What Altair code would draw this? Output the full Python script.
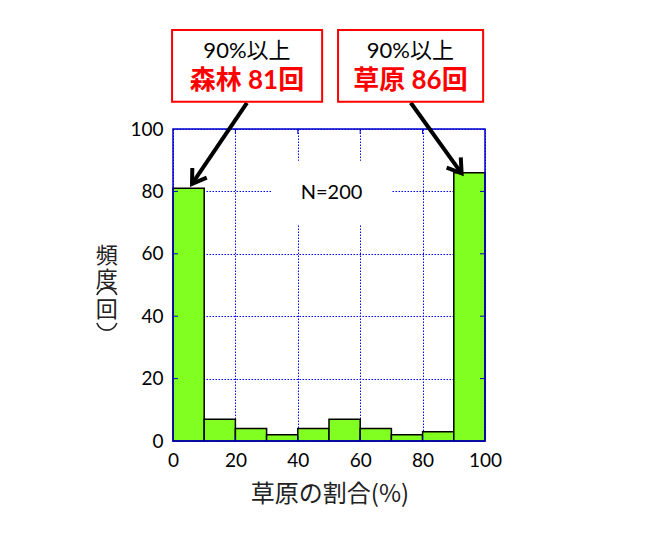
import altair as alt
import pandas as pd

# ---- data ----
bin_start = [0, 10, 20, 30, 40, 50, 60, 70, 80, 90]
counts = [81, 7, 4, 2, 4, 7, 4, 2, 3, 86]
tick_vals = [0, 20, 40, 60, 80, 100]
inner_ticks = [20, 40, 60, 80]

ann_line1 = ["90%以上", "90%以上"]
ann_line2 = ["森林 81回", "草原 86回"]
ann_box_x = [-0.3, 52.9]
ann_box_x2 = [47.8, 99.4]
ann_cx = [23.7, 76.1]
arrow_x = [23.7, 76.2]
arrow_y = [108.4, 108.4]
arrow_tx = [6.1, 92.5]
arrow_ty = [82.4, 85.8]
arrow_ang = [34, 324]

ytitle_chars = ["頻", "度", "回"]
ytitle_y = [59.4, 51.6, 42.0]
yparen_y = [47.9, 36.7]
yparen_ang = [0, 180]

BLUE = "#0000cc"
GREEN = "#80ff20"
NUM_FONT = "Lato, 'Noto Sans CJK JP'"
JP_FONT = "'Noto Sans CJK JP'"

bars = pd.DataFrame({"x": bin_start, "x2": [b + 10 for b in bin_start], "n": counts})
ann = pd.DataFrame({"bx": ann_box_x, "bx2": ann_box_x2, "cx": ann_cx,
                    "l1": ann_line1, "l2": ann_line2})
arr = pd.DataFrame({"x": arrow_x, "y": arrow_y, "tx": arrow_tx, "ty": arrow_ty,
                    "ang": arrow_ang})
ticks = pd.DataFrame({"v": inner_ticks})
ytl = pd.DataFrame({"c": ytitle_chars, "y": ytitle_y})
ypr = pd.DataFrame({"y": yparen_y, "ang": yparen_ang})

xs = alt.Scale(domain=[0, 100], nice=False)
ys = alt.Scale(domain=[0, 100], nice=False)

axis_common = dict(values=tick_vals, title=None, grid=True, gridColor="#0000ff",
                   gridDash=[1.5, 1.5], gridWidth=1, domain=False, ticks=False,
                   labelFont=NUM_FONT, labelFontSize=19, labelColor="black",
                   labelPadding=10, labelFlush=False)

bar_layer = alt.Chart(bars).mark_rect(fill=GREEN, stroke="black", strokeWidth=1.5).encode(
    x=alt.X("x:Q", scale=xs, axis=alt.Axis(**axis_common)),
    x2="x2:Q",
    y=alt.Y("n:Q", scale=ys, axis=alt.Axis(**axis_common)),
    y2=alt.datum(0),
)

# white patch behind N=200
nbox = alt.Chart(pd.DataFrame({"a": [0]})).mark_rect(fill="white").encode(
    x=alt.datum(31.5), x2=alt.datum(70), y=alt.datum(69.2), y2=alt.datum(89.8))
ntext = alt.Chart(pd.DataFrame({"a": [0]})).mark_text(
    text="N=200", font=NUM_FONT, fontSize=20, color="black", baseline="middle").encode(
    x=alt.datum(50.8), y=alt.datum(79.4))

# inward ticks (bottom, top, left, right)
t_bottom = alt.Chart(ticks).mark_rule(color=BLUE, strokeWidth=1).encode(
    x="v:Q", y=alt.datum(0), y2=alt.datum(1.6))
t_top = alt.Chart(ticks).mark_rule(color=BLUE, strokeWidth=1).encode(
    x="v:Q", y=alt.datum(100), y2=alt.datum(98.4))
t_left = alt.Chart(ticks).mark_rule(color=BLUE, strokeWidth=1).encode(
    y="v:Q", x=alt.datum(0), x2=alt.datum(1.6))
t_right = alt.Chart(ticks).mark_rule(color=BLUE, strokeWidth=1).encode(
    y="v:Q", x=alt.datum(100), x2=alt.datum(98.4))

frame = alt.Chart(pd.DataFrame({"a": [0]})).mark_rect(
    fillOpacity=0, stroke=BLUE, strokeWidth=1.5).encode(
    x=alt.datum(0), x2=alt.datum(100), y=alt.datum(0), y2=alt.datum(100))

# annotation boxes
boxes = alt.Chart(ann).mark_rect(fill="white", stroke="#ff0000", strokeWidth=2).encode(
    x="bx:Q", x2="bx2:Q", y=alt.datum(131.7), y2=alt.datum(108.7))
txt1 = alt.Chart(ann).mark_text(font=NUM_FONT, fontSize=22, color="black",
                                baseline="middle").encode(
    x="cx:Q", y=alt.datum(125.1), text="l1:N")
txt2 = alt.Chart(ann).mark_text(font=NUM_FONT, fontSize=26, fontWeight="bold",
                                color="#ff0000", baseline="middle").encode(
    x="cx:Q", y=alt.datum(115.4), text="l2:N")

shafts = alt.Chart(arr).mark_rule(color="black", strokeWidth=4).encode(
    x="x:Q", y="y:Q", x2="tx:Q", y2="ty:Q")
heads = alt.Chart(arr).mark_point(
    shape="M-0.65,-1L0,0L0.65,-1", filled=False, color="black", strokeWidth=4,
    opacity=1, size=720, strokeJoin="miter").encode(
    x="tx:Q", y="ty:Q", angle=alt.Angle("ang:Q", scale=None))

ytitle = alt.Chart(ytl).mark_text(font=JP_FONT, fontSize=22, color="#222222",
                                  baseline="middle").encode(
    x=alt.datum(-21.2), y="y:Q", text="c:N")
# vertical-form parentheses drawn as arcs
yparen = alt.Chart(ypr).mark_point(
    shape="M-1,0.35C-0.6,-0.6 0.6,-0.6 1,0.35", filled=False, color="#222222",
    strokeWidth=1.6, opacity=1, size=400).encode(
    x=alt.datum(-21.2), y="y:Q", angle=alt.Angle("ang:Q", scale=None))
xtitle = alt.Chart(pd.DataFrame({"a": [0]})).mark_text(
    text="草原の割合(%)", font=JP_FONT, fontSize=24, color="#222222",
    baseline="middle").encode(x=alt.datum(50.3), y=alt.datum(-17.3))

chart = alt.layer(
    bar_layer, nbox, ntext, t_bottom, t_top, t_left, t_right, frame,
    shafts, heads, boxes, txt1, txt2, ytitle, yparen, xtitle
).properties(
    width=312, height=312,
    padding={"left": 173, "top": 129, "right": 165, "bottom": 93},
    autosize="none",
).configure_view(stroke="transparent")

chart.save("out.html", embed_options={"renderer": "svg", "actions": False})
